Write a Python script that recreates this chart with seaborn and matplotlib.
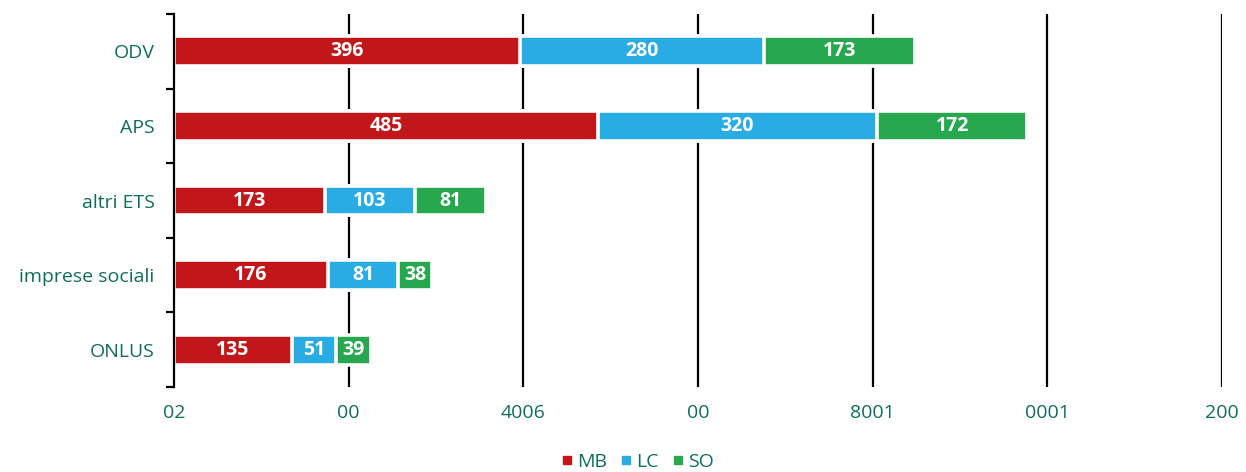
import numpy as np
import pandas as pd
import matplotlib
matplotlib.use('Agg')
import matplotlib.pyplot as plt
import seaborn as sns
from matplotlib.lines import Line2D

categories = ['ODV', 'APS', 'altri ETS', 'imprese sociali', 'ONLUS']
mb = [396, 485, 173, 176, 135]
lc = [280, 320, 103, 81, 51]
so = [173, 172, 81, 38, 39]
series_names = ['MB', 'LC', 'SO']
x_ticks = [0, 200, 400, 600, 800, 1000, 1200]
x_tick_labels = ['02', '00', '4006', '00', '8001', '0001', '200']

colors = {'MB': '#c1171b', 'LC': '#29ace3', 'SO': '#27a84f'}
text_col = '#0f6e5d'

sns.set_style('white')
plt.rcParams['font.family'] = ['Open Sans', 'DejaVu Sans']

df = pd.DataFrame({'cat': categories, 'MB': mb, 'LC': lc, 'SO': so})
df['c1'] = df['MB']
df['c2'] = df['MB'] + df['LC']
df['c3'] = df['c2'] + df['SO']

fig = plt.figure(figsize=(12.46, 4.72), dpi=100)
ax = fig.add_axes([174 / 1246, 1 - 387 / 472, (1222 - 174) / 1246, (387 - 14) / 472])

# gridlines behind bars
for xv in x_ticks[1:]:
    ax.axvline(xv, color='black', lw=1.6, zorder=0)

# stacked via overlapping cumulative bars, drawn back to front
for col, name in [('c3', 'SO'), ('c2', 'LC'), ('c1', 'MB')]:
    sns.barplot(data=df, x=col, y='cat', order=categories, orient='h',
                color=colors[name], saturation=1, width=0.40,
                edgecolor='white', linewidth=2.6, ax=ax, zorder=2)

# segment labels
for i, row in df.iterrows():
    starts = [0, row['c1'], row['c2']]
    for s, name in zip(starts, series_names):
        v = row[name]
        ax.text(s + v / 2, i, str(v), ha='center', va='center', color='white',
                fontsize=14, fontweight='bold', zorder=3)

ax.set_xlim(0, 1200)
ax.set_ylim(4.5, -0.5)
ax.set_xlabel('')
ax.set_ylabel('')

ax.set_xticks(x_ticks)
ax.set_xticklabels(x_tick_labels)
ax.tick_params(axis='x', length=0, pad=12, labelsize=14, labelcolor=text_col)

ax.set_yticks(range(len(categories)))
ax.set_yticklabels(categories)
ax.set_yticks(np.arange(-0.5, len(categories), 1), minor=True)
ax.tick_params(axis='y', which='major', length=0, pad=14, labelsize=14, labelcolor=text_col)
ax.tick_params(axis='y', which='minor', length=6, width=1.6, color='black', left=True)

for side in ['top', 'right', 'bottom']:
    ax.spines[side].set_visible(False)
ax.spines['left'].set_color('black')
ax.spines['left'].set_linewidth(1.6)
ax.spines['left'].set_zorder(4)

handles = [Line2D([0], [0], marker='s', linestyle='', markersize=6,
                  color=colors[n]) for n in series_names]
fig.legend(handles, series_names, loc='lower center', bbox_to_anchor=(0.512, -0.035),
           ncol=3, frameon=False, handlelength=0.5, handletextpad=0.3,
           columnspacing=0.7, fontsize=14, labelcolor=text_col)

fig.savefig('out.png', dpi=100)
